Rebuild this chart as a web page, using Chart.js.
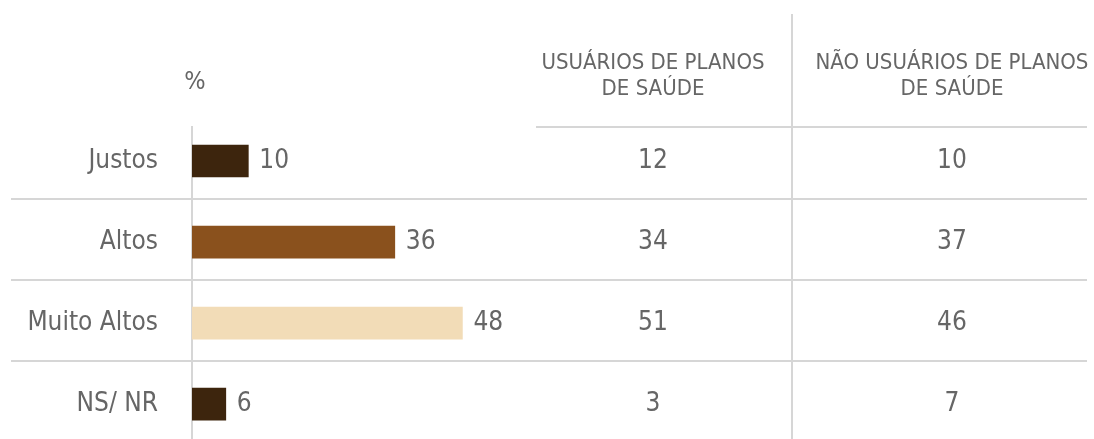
<!DOCTYPE html>
<html>
<head>
<meta charset="utf-8">
<script src="https://cdn.jsdelivr.net/npm/chart.js@4/dist/chart.umd.min.js"></script>
<style>
  html, body { margin: 0; padding: 0; background: #fff; }
  #wrap { width: 1094px; height: 439px; position: relative; }
</style>
</head>
<body>
<div id="wrap"><canvas id="precoChart"></canvas></div>
<script>
var categories = ["Justos", "Altos", "Muito Altos", "NS/ NR"]
var totalValues = [10, 36, 48, 6]
var usuariosValues = [12, 34, 51, 3]
var naoUsuariosValues = [10, 37, 46, 7]
var tableHeaders = [["USUÁRIOS DE PLANOS", "DE SAÚDE"], ["NÃO USUÁRIOS DE PLANOS", "DE SAÚDE"]]
var barColors = ["#3d250d", "#8a511d", "#f2dcb7", "#3d250d"]

var FONT = "'DejaVu Sans Condensed', 'DejaVu Sans', sans-serif"
var TEXT = "#666666"
var LINE = "#d6d6d6"

// tabela à direita + linhas horizontais
var tablePlugin = {
   id: "tabela",
   afterDatasetsDraw: function (chart) {
      var c = chart.ctx
      var y = chart.scales.y
      var area = chart.chartArea
      var colX = [653, 952]
      c.save()

      // linhas
      c.strokeStyle = LINE
      c.lineWidth = 2
      c.beginPath()
      c.moveTo(536, area.top)
      c.lineTo(1087, area.top)
      for (var i = 0; i < categories.length - 1; i++) {
         var ly = Math.round(y.getPixelForValue(i + 0.47))
         c.moveTo(11, ly)
         c.lineTo(1087, ly)
      }
      c.moveTo(792, 14)
      c.lineTo(792, 439)
      c.stroke()

      // cabeçalho
      c.fillStyle = TEXT
      c.textAlign = "center"
      c.textBaseline = "middle"
      c.font = "22px " + FONT
      tableHeaders.forEach(function (h, k) {
         c.fillText(h[0], colX[k], 63)
         c.fillText(h[1], colX[k], 89)
      })
      c.font = "25px " + FONT
      c.fillText("%", 195, 82)

      // valores
      c.font = "26px " + FONT
      categories.forEach(function (cat, i) {
         var py = y.getPixelForValue(i)
         c.fillText(usuariosValues[i], colX[0], py)
         c.fillText(naoUsuariosValues[i], colX[1], py)
      })

      // rótulos das barras
      c.textAlign = "left"
      var meta = chart.getDatasetMeta(0)
      meta.data.forEach(function (bar, i) {
         c.fillText(totalValues[i], bar.x + 11, bar.y)
      })
      c.restore()
   },
}

var ctx = document.getElementById("precoChart").getContext("2d")
Chart.defaults.plugins.tooltip.enabled = false
Chart.defaults.animation = false

var chart = new Chart(ctx, {
   type: "bar",
   data: {
      datasets: [
         {
            data: totalValues.map(function (v, i) { return { x: v, y: i } }),
            backgroundColor: barColors,
            borderWidth: 0,
            barThickness: 32,
         },
      ],
   },
   options: {
      indexAxis: "y", // barras horizontais
      responsive: true,
      maintainAspectRatio: false,
      layout: {
         padding: { top: 127, right: 564, bottom: 0, left: 0 },
      },
      plugins: {
         legend: { display: false },
      },
      scales: {
         x: {
            display: false,
            min: 0,
            max: 60,
         },
         y: {
            type: "linear",
            offset: false,
            reverse: true,
            min: -0.42,
            max: 3.43,
            afterBuildTicks: function (s) {
               s.ticks = categories.map(function (c, i) { return { value: i } })
            },
            afterFit: function (s) {
               s.width = 192
               s.paddingTop = 0
               s.paddingBottom = 0
            },
            grid: { display: false, offset: false },
            border: { color: LINE, width: 2 },
            ticks: {
               callback: function (v) { return categories[v] },
               padding: 26,
               color: TEXT,
               font: { family: FONT, size: 26 },
            },
         },
      },
   },
   plugins: [tablePlugin],
})
</script>
</body>
</html>
